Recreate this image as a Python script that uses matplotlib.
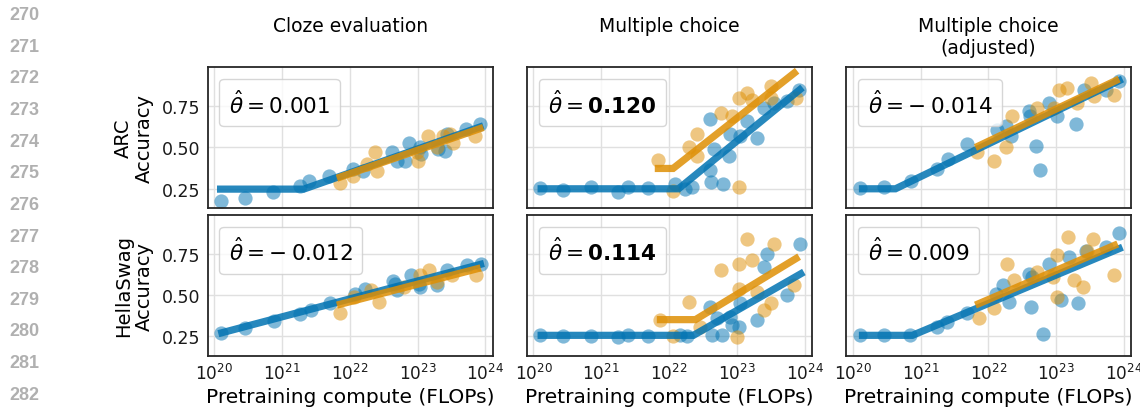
import matplotlib
matplotlib.use("Agg")
import matplotlib.pyplot as plt
from matplotlib.lines import Line2D
import numpy as np

# ---------------- data (x values are log10 of pretraining FLOPs) ----------------
col_titles = ["Cloze evaluation", "Multiple choice", "Multiple choice\n(adjusted)"]
row_labels = ["ARC\nAccuracy", "HellaSwag\nAccuracy"]
x_tick_exps = [20, 21, 22, 23, 24]
y_ticks = [0.25, 0.50, 0.75]
line_numbers = list(range(270, 283))

theta_values = ["0.001", "0.120", "-0.014", "-0.012", "0.114", "0.009"]
theta_bold = [False, True, False, False, True, False]

# ARC / cloze
arc_cloze_ref_x = [20.10, 20.46, 20.87, 21.26, 21.40, 21.70, 22.05, 22.20, 22.62, 22.70, 22.81, 22.88, 23.03, 23.05, 23.30, 23.40, 23.43, 23.72, 23.92]
arc_cloze_ref_y = [0.177, 0.193, 0.232, 0.264, 0.30, 0.328, 0.369, 0.36, 0.47, 0.42, 0.42, 0.53, 0.50, 0.46, 0.49, 0.48, 0.58, 0.61, 0.64]
arc_cloze_new_x = [21.86, 22.05, 22.25, 22.37, 22.40, 22.99, 23.01, 23.16, 23.28, 23.38, 23.48, 23.52, 23.84]
arc_cloze_new_y = [0.288, 0.33, 0.40, 0.47, 0.36, 0.47, 0.42, 0.57, 0.50, 0.57, 0.58, 0.53, 0.57]
arc_cloze_ref_fit_x = [20.04, 21.32, 23.97]
arc_cloze_ref_fit_y = [0.248, 0.248, 0.631]
arc_cloze_new_fit_x = [21.81, 23.97]
arc_cloze_new_fit_y = [0.314, 0.621]

# ARC / multiple choice
arc_mc_ref_x = [20.09, 20.44, 20.85, 21.25, 21.40, 21.69, 22.09, 22.24, 22.34, 22.61, 22.61, 22.62, 22.66, 22.80, 22.88, 22.90, 23.05, 23.15, 23.30, 23.40, 23.55, 23.74, 23.92]
arc_mc_ref_y = [0.252, 0.242, 0.262, 0.232, 0.258, 0.252, 0.278, 0.248, 0.258, 0.67, 0.363, 0.29, 0.49, 0.278, 0.45, 0.58, 0.57, 0.66, 0.56, 0.74, 0.77, 0.78, 0.85]
arc_mc_new_x = [21.84, 22.06, 22.29, 22.41, 22.41, 22.76, 22.93, 23.03, 23.03, 23.15, 23.23, 23.50, 23.50, 23.87]
arc_mc_new_y = [0.423, 0.238, 0.50, 0.58, 0.45, 0.71, 0.69, 0.80, 0.26, 0.83, 0.79, 0.87, 0.80, 0.80]
arc_mc_ref_fit_x = [20.06, 22.14, 23.97]
arc_mc_ref_fit_y = [0.25, 0.25, 0.863]
arc_mc_new_fit_x = [21.79, 22.06, 23.89]
arc_mc_new_fit_y = [0.373, 0.373, 0.964]

# ARC / multiple choice (adjusted)
arc_adj_ref_x = [20.11, 20.46, 20.86, 21.25, 21.40, 21.69, 22.13, 22.26, 22.33, 22.60, 22.62, 22.70, 22.77, 22.89, 23.02, 23.29, 23.41, 23.73, 23.93]
arc_adj_ref_y = [0.252, 0.262, 0.30, 0.369, 0.43, 0.524, 0.605, 0.63, 0.57, 0.72, 0.69, 0.51, 0.363, 0.77, 0.69, 0.64, 0.85, 0.85, 0.90]
arc_adj_new_x = [21.84, 22.08, 22.26, 22.35, 22.72, 22.97, 23.04, 23.16, 23.31, 23.51, 23.56, 23.85]
arc_adj_new_y = [0.47, 0.42, 0.50, 0.69, 0.74, 0.74, 0.85, 0.86, 0.77, 0.89, 0.81, 0.82]
arc_adj_ref_fit_x = [20.09, 20.63, 23.98]
arc_adj_ref_fit_y = [0.25, 0.25, 0.914]
arc_adj_new_fit_x = [21.81, 23.93]
arc_adj_new_fit_y = [0.50, 0.914]

# HellaSwag / cloze
hs_cloze_ref_x = [20.10, 20.46, 20.88, 21.27, 21.42, 21.71, 22.08, 22.23, 22.63, 22.66, 22.70, 22.90, 23.02, 23.04, 23.29, 23.44, 23.73, 23.93]
hs_cloze_ref_y = [0.271, 0.30, 0.344, 0.385, 0.413, 0.453, 0.51, 0.54, 0.587, 0.57, 0.53, 0.62, 0.57, 0.547, 0.56, 0.65, 0.68, 0.69]
hs_cloze_new_x = [21.86, 22.06, 22.31, 22.43, 22.80, 23.04, 23.17, 23.29, 23.51, 23.86]
hs_cloze_new_y = [0.39, 0.49, 0.53, 0.46, 0.55, 0.62, 0.65, 0.58, 0.62, 0.62]
hs_cloze_ref_fit_x = [20.06, 23.98]
hs_cloze_ref_fit_y = [0.267, 0.692]
hs_cloze_new_fit_x = [21.81, 23.93]
hs_cloze_new_fit_y = [0.44, 0.665]

# HellaSwag / multiple choice
hs_mc_ref_x = [20.09, 20.44, 20.85, 21.25, 21.40, 21.69, 22.16, 22.26, 22.61, 22.63, 22.71, 22.78, 22.90, 22.93, 23.03, 23.05, 23.30, 23.40, 23.45, 23.74, 23.94]
hs_mc_ref_y = [0.257, 0.253, 0.253, 0.247, 0.257, 0.25, 0.257, 0.25, 0.43, 0.257, 0.36, 0.257, 0.37, 0.32, 0.31, 0.45, 0.35, 0.67, 0.75, 0.50, 0.81]
hs_mc_new_x = [21.87, 22.06, 22.29, 22.46, 22.76, 23.03, 23.03, 23.00, 23.15, 23.22, 23.30, 23.40, 23.50, 23.55, 23.84]
hs_mc_new_y = [0.35, 0.25, 0.46, 0.31, 0.65, 0.69, 0.54, 0.247, 0.84, 0.71, 0.52, 0.41, 0.45, 0.81, 0.56]
hs_mc_ref_fit_x = [20.06, 22.36, 23.99]
hs_mc_ref_fit_y = [0.257, 0.257, 0.64]
hs_mc_new_fit_x = [21.82, 22.39, 23.92]
hs_mc_new_fit_y = [0.352, 0.352, 0.733]

# HellaSwag / multiple choice (adjusted)
hs_adj_ref_x = [20.10, 20.46, 20.85, 21.25, 21.39, 21.69, 22.11, 22.21, 22.31, 22.60, 22.63, 22.65, 22.80, 22.90, 23.07, 23.19, 23.32, 23.44, 23.73, 23.93]
hs_adj_ref_y = [0.257, 0.257, 0.257, 0.31, 0.34, 0.39, 0.51, 0.56, 0.46, 0.63, 0.43, 0.61, 0.267, 0.69, 0.47, 0.73, 0.45, 0.77, 0.79, 0.875]
hs_adj_new_x = [21.86, 22.08, 22.28, 22.38, 22.72, 22.95, 23.02, 23.02, 23.17, 23.27, 23.39, 23.46, 23.54, 23.86]
hs_adj_new_y = [0.36, 0.42, 0.69, 0.59, 0.64, 0.61, 0.74, 0.49, 0.85, 0.59, 0.55, 0.77, 0.84, 0.62]
hs_adj_ref_fit_x = [20.09, 20.88, 23.98]
hs_adj_ref_fit_y = [0.257, 0.257, 0.79]
hs_adj_new_fit_x = [21.81, 23.91]
hs_adj_new_fit_y = [0.44, 0.81]

panels = [
    [(arc_cloze_ref_x, arc_cloze_ref_y, arc_cloze_new_x, arc_cloze_new_y,
      arc_cloze_ref_fit_x, arc_cloze_ref_fit_y, arc_cloze_new_fit_x, arc_cloze_new_fit_y),
     (arc_mc_ref_x, arc_mc_ref_y, arc_mc_new_x, arc_mc_new_y,
      arc_mc_ref_fit_x, arc_mc_ref_fit_y, arc_mc_new_fit_x, arc_mc_new_fit_y),
     (arc_adj_ref_x, arc_adj_ref_y, arc_adj_new_x, arc_adj_new_y,
      arc_adj_ref_fit_x, arc_adj_ref_fit_y, arc_adj_new_fit_x, arc_adj_new_fit_y)],
    [(hs_cloze_ref_x, hs_cloze_ref_y, hs_cloze_new_x, hs_cloze_new_y,
      hs_cloze_ref_fit_x, hs_cloze_ref_fit_y, hs_cloze_new_fit_x, hs_cloze_new_fit_y),
     (hs_mc_ref_x, hs_mc_ref_y, hs_mc_new_x, hs_mc_new_y,
      hs_mc_ref_fit_x, hs_mc_ref_fit_y, hs_mc_new_fit_x, hs_mc_new_fit_y),
     (hs_adj_ref_x, hs_adj_ref_y, hs_adj_new_x, hs_adj_new_y,
      hs_adj_ref_fit_x, hs_adj_ref_fit_y, hs_adj_new_fit_x, hs_adj_new_fit_y)],
]

# ---------------- styling ----------------
BLUE = "#0173B2"
ORANGE = "#DE8F05"
plt.rcParams["font.family"] = ["DejaVu Sans"]
plt.rcParams["mathtext.fontset"] = "dejavusans"

W, H = 1140, 410
fig = plt.figure(figsize=(W / 100, H / 100), dpi=100)

col_left_px = [207.5, 526.7, 846.0]
ax_w_px = 285.3
row_top_px = [68.3, 216.0]
ax_h_px = 140.5

for r in range(2):
    for c in range(3):
        left = col_left_px[c] / W
        bottom = (H - row_top_px[r] - ax_h_px) / H
        ax = fig.add_axes([left, bottom, ax_w_px / W, ax_h_px / H])
        rx, ry, nx, ny, rfx, rfy, nfx, nfy = panels[r][c]
        ax.scatter(10.0 ** np.array(rx), ry, s=105, color=BLUE, alpha=0.5,
                   linewidths=0, zorder=2)
        ax.scatter(10.0 ** np.array(nx), ny, s=105, color=ORANGE, alpha=0.5,
                   linewidths=0, zorder=2)
        ax.plot(10.0 ** np.array(rfx), rfy, color=BLUE, lw=5.2, alpha=0.85,
                solid_capstyle="butt", solid_joinstyle="miter", zorder=3)
        ax.plot(10.0 ** np.array(nfx), nfy, color=ORANGE, lw=5.2, alpha=0.85,
                solid_capstyle="butt", solid_joinstyle="miter", zorder=4)

        ax.set_xscale("log")
        ax.set_xlim(10 ** 19.9, 10 ** 24.11)
        ax.set_ylim(0.135, 0.985)
        ax.set_xticks([10.0 ** e for e in x_tick_exps])
        ax.minorticks_off()
        ax.set_yticks(y_ticks)
        ax.grid(True, color="0.88", lw=1.0, zorder=0)
        ax.set_axisbelow(True)
        for sp in ax.spines.values():
            sp.set_color("0.15")
            sp.set_linewidth(1.3)
        ax.tick_params(axis="y", length=0, labelsize=12.5, pad=5, colors="0.1")
        ax.tick_params(axis="x", length=0, labelsize=12.2, pad=5, colors="0.1")
        if r == 0:
            ax.set_xticklabels([])
        else:
            ax.set_xticklabels([rf"$10^{{{e}}}$" for e in x_tick_exps])
            ax.set_xlabel("Pretraining compute (FLOPs)", fontsize=14.5, labelpad=3)
        if c != 0:
            ax.set_yticklabels([])
        else:
            ax.set_yticklabels([f"{t:.2f}" for t in y_ticks])

        idx = r * 3 + c
        val = theta_values[idx]
        if val.startswith("-"):
            body = r"-\:" + val[1:]
        else:
            body = val
        if theta_bold[idx]:
            label = r"$\hat{\theta} = \mathbf{" + body + "}$"
        else:
            label = r"$\hat{\theta} = " + body + "$"
        leg = ax.legend(handles=[Line2D([], [], alpha=0)], labels=[label],
                        loc="upper left", handlelength=0, handletextpad=0,
                        fontsize=15.5, borderpad=0.45, borderaxespad=0.55,
                        framealpha=0.8, edgecolor="0.8", fancybox=True)
        leg.set_zorder(10)

# column titles
for c, t in enumerate(col_titles):
    xc = (col_left_px[c] + ax_w_px / 2) / W
    fig.text(xc, 1 - 17 / H, t, ha="center", va="top", fontsize=13.5,
             multialignment="center", linespacing=1.2)

# row labels
for r, t in enumerate(row_labels):
    yc = (H - row_top_px[r] - ax_h_px / 2) / H
    fig.text(134 / W, yc, t, ha="center", va="center", rotation=90,
             fontsize=14, multialignment="center", linespacing=1.15)

# paper line numbers in the margin
for i, n in enumerate(line_numbers):
    ypx = 13.5 + i * 31.65
    fig.text(9.5 / W, 1 - ypx / H, str(n), ha="left", va="center_baseline",
             fontsize=13, fontweight="bold", color="#b0b0b0",
             family=["Liberation Sans", "DejaVu Sans"])

fig.savefig("out.png", dpi=100)
